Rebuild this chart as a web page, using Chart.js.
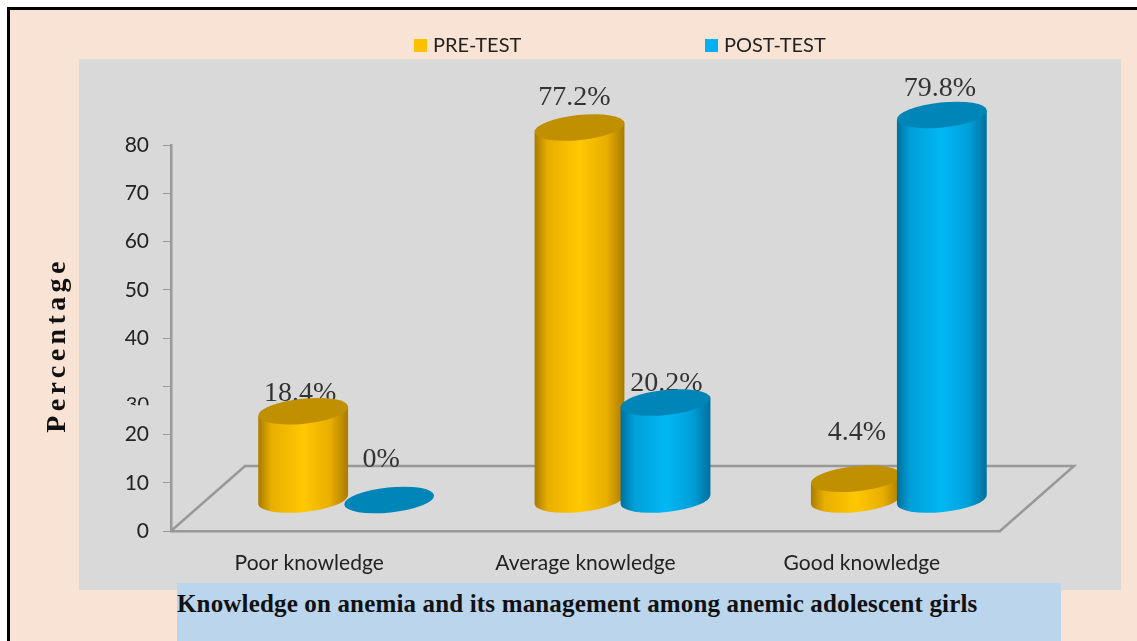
<!DOCTYPE html>
<html>
<head>
<meta charset="utf-8">
<title>Knowledge on anemia</title>
<script src="https://cdn.jsdelivr.net/npm/chart.js@4"></script>
<style>
    html, body { margin: 0; padding: 0; background: #fff; }
    #page { position: relative; width: 1137px; height: 641px; overflow: hidden; }
    #frame { position: absolute; left: 7px; top: 7px; right: -5px; bottom: -5px; background: #f9e3d5; border: 3px solid #000; }
    #plotBg { position: absolute; left: 79px; top: 59px; width: 1042px; height: 531px; background: #d9d9d9; }
    #titleBg { position: absolute; left: 177px; top: 583px; width: 884px; height: 58px; background: #bbd5ec; }
    #chartTitle { position: absolute; left: 177px; top: 590px; font: bold 25px "Liberation Serif", serif; letter-spacing: 0.16px; color: #111; white-space: nowrap; }
    #myChart { position: absolute; left: 0; top: 0; }
    .legendItem { position: absolute; top: 32px; font: 20px Lato, sans-serif; color: #222; white-space: nowrap; line-height: 24px; }
    .legendItem i { display: inline-block; width: 13px; height: 13px; margin-right: 6px; }
</style>
</head>
<body>
<div id="page">
    <div id="frame"></div>
    <div id="plotBg"></div>
    <div id="titleBg"></div>
    <div id="chartTitle">Knowledge on anemia and its management among anemic adolescent girls</div>
    <canvas id="myChart" width="1137" height="641"></canvas>
    <div class="legendItem" id="legendPre" style="left:414px"></div>
    <div class="legendItem" id="legendPost" style="left:705px"></div>
</div>

<script>
// ====== DADOS ======
const categories = ['Poor knowledge', 'Average knowledge', 'Good knowledge'];
const preTest = [18.4, 77.2, 4.4];
const postTest = [0, 20.2, 79.8];
const yTicks = [0, 10, 20, 30, 40, 50, 60, 70, 80];
const seriesNames = ['PRE-TEST', 'POST-TEST'];
const yTitle = 'Percentage';

// estilo dos cilindros
const cylinderColors = [
    { edge: '#a87a00', shade: '#e8ae00', mid: '#ffc800', top: '#c09000', flat: '#ffc000' },
    { edge: '#006f9c', shade: '#009fd8', mid: '#00b8f5', top: '#0085b8', flat: '#00b0f0' }
];
// deslocamento do chao 3D
const floorDx = 74, floorDy = 65;
const baseLift = 31;
const tilt = -6 * Math.PI / 180;
const capRy = 12.5;
// ajuste dos rotulos [dataset][categoria]
const labelShift = [
    [[-3, -18], [-5, -30], [1, -46]],
    [[-8, -40], [1, -19], [-2, -26]]
];

// ====== LEGENDA ======
['legendPre', 'legendPost'].forEach((id, i) => {
    document.getElementById(id).innerHTML =
        '<i style="background:' + cylinderColors[i].flat + '"></i>' + seriesNames[i];
});

function drawCylinder(ctx, bar, c) {
    const cx = bar.x + floorDx / 2;
    const rx = bar.width / 2;
    const baseY = bar.base - baseLift;
    const topY = bar.y - baseLift;
    const tipX = rx * Math.cos(tilt), tipY = rx * Math.sin(tilt);

    if (baseY - topY > 0.5) {
        const grad = ctx.createLinearGradient(cx - rx, 0, cx + rx, 0);
        grad.addColorStop(0, c.edge);
        grad.addColorStop(0.15, c.shade);
        grad.addColorStop(0.5, c.mid);
        grad.addColorStop(0.8, c.shade);
        grad.addColorStop(1, c.edge);
        ctx.fillStyle = grad;
        ctx.beginPath();
        ctx.moveTo(cx - tipX, topY - tipY);
        ctx.lineTo(cx - tipX, baseY - tipY);
        ctx.ellipse(cx, baseY, rx, capRy, tilt, Math.PI, 0, true);
        ctx.lineTo(cx + tipX, topY + tipY);
        ctx.closePath();
        ctx.fill();
    }
    ctx.fillStyle = c.top;
    ctx.beginPath();
    ctx.ellipse(cx, topY, rx, capRy, tilt, 0, Math.PI * 2);
    ctx.fill();
}

const cylinderPlugin = {
    id: 'cylinders',
    beforeDatasetDraw() {
        return false; // barras planas nao sao desenhadas
    },
    afterDatasetsDraw(chart) {
        const ctx = chart.ctx;
        const area = chart.chartArea;
        ctx.save();

        // chao em perspectiva
        ctx.strokeStyle = '#989898';
        ctx.lineWidth = 2.5;
        ctx.beginPath();
        ctx.moveTo(area.left, area.bottom);
        ctx.lineTo(area.left + floorDx, area.bottom - floorDy);
        ctx.lineTo(area.right + floorDx, area.bottom - floorDy);
        ctx.lineTo(area.right, area.bottom);
        ctx.stroke();

        // rotulos ficam atras dos cilindros
        ctx.font = '28px "Liberation Serif", serif';
        ctx.fillStyle = '#333';
        ctx.textAlign = 'center';
        ctx.textBaseline = 'middle';
        chart.data.datasets.forEach((ds, i) => {
            chart.getDatasetMeta(i).data.forEach((bar, j) => {
                const s = labelShift[i][j];
                ctx.fillText(ds.data[j] + '%', bar.x + floorDx / 2 + s[0], bar.y - baseLift + s[1]);
            });
        });

        chart.data.datasets.forEach((ds, i) => {
            chart.getDatasetMeta(i).data.forEach(bar => drawCylinder(ctx, bar, cylinderColors[i]));
        });

        // o "30" aparece cortado no original
        const y30 = chart.scales.y.getPixelForValue(30);
        ctx.save();
        ctx.beginPath();
        ctx.rect(120, y30 + 11, 40, 8);
        ctx.clip();
        ctx.font = '20px Lato, sans-serif';
        ctx.fillStyle = '#222';
        ctx.textAlign = 'right';
        ctx.fillText('30', 149, y30 + 18);
        ctx.restore();

        // titulo do eixo y
        ctx.translate(58, 345);
        ctx.rotate(-Math.PI / 2);
        ctx.font = 'bold 28px "Liberation Serif", serif';
        ctx.letterSpacing = '4.4px';
        ctx.fillStyle = '#111';
        ctx.fillText(yTitle, 0, 0);
        ctx.restore();
    }
};

// ====== GRAFICO ======
new Chart(document.getElementById('myChart').getContext('2d'), {
    type: 'bar',
    plugins: [cylinderPlugin],
    data: {
        labels: categories,
        datasets: [
            { label: seriesNames[0], data: preTest, backgroundColor: cylinderColors[0].flat },
            { label: seriesNames[1], data: postTest, backgroundColor: cylinderColors[1].flat }
        ]
    },
    options: {
        responsive: false,
        animation: false,
        categoryPercentage: 0.6225,
        barPercentage: 1.05,
        layout: { padding: { left: 111, right: 137, top: 145, bottom: 60 } },
        plugins: {
            legend: { display: false },
            tooltip: { enabled: false }
        },
        scales: {
            x: {
                afterFit: s => { s.height = 50; },
                grid: { drawOnChartArea: false, drawTicks: false },
                border: { color: '#989898', width: 2.5 },
                ticks: {
                    padding: 20,
                    color: '#222',
                    font: { family: 'Lato, sans-serif', size: 21 },
                    maxRotation: 0
                }
            },
            y: {
                min: yTicks[0],
                max: yTicks[yTicks.length - 1],
                afterFit: s => { s.width = 60; },
                afterBuildTicks: s => { s.ticks = yTicks.map(v => ({ value: v })); },
                grid: { drawOnChartArea: false, tickLength: 8, tickColor: '#989898' },
                border: { color: '#989898', width: 2.5 },
                ticks: {
                    padding: 14,
                    color: '#222',
                    font: { family: 'Lato, sans-serif', size: 21 },
                    callback: v => (v === 30 ? '' : v)
                }
            }
        }
    }
});
</script>
</body>
</html>
